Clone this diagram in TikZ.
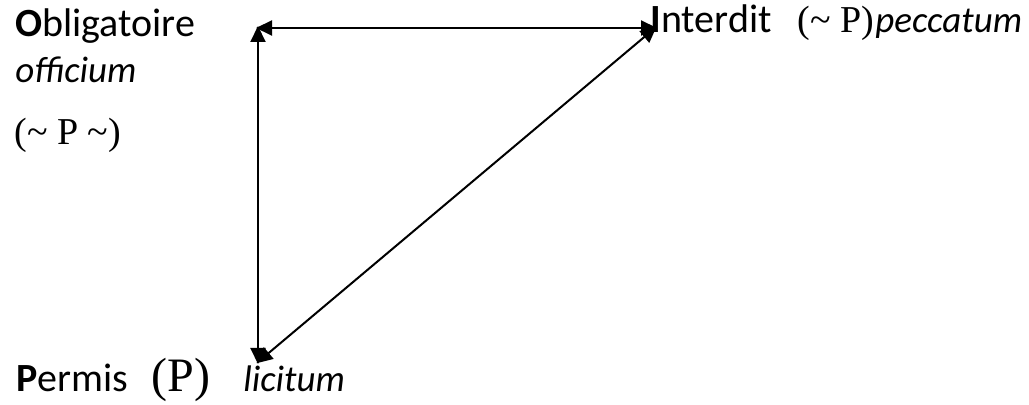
\documentclass[tikz,border=0pt]{standalone}
\usepackage{fontspec}
\setmainfont{Carlito}
\newfontfamily\timesfont{Liberation Serif}
\usetikzlibrary{
  arrows.meta,
  positioning
}

\begin{document}
\begin{tikzpicture}[
  x=0.5pt, y=-0.5pt,
  word/.style={anchor=base west, inner sep=0pt, font=\fontsize{20}{24}\selectfont},
  latin/.style={word, font=\fontsize{18.5}{22}\selectfont\itshape},
  formula/.style={word, font=\fontsize{19}{23}\selectfont\timesfont},
  arr/.style={{Triangle[length=8pt,width=7.5pt]}-{Triangle[length=8pt,width=7.5pt]}, line width=1pt, shorten <=-1pt, shorten >=-1pt}
]
  \useasboundingbox (0,0) rectangle (1029,405);

  % corners of the triangle
  \coordinate (obl) at (258,28);
  \coordinate (int) at (655,28);
  \coordinate (per) at (258,362);

  % top left
  \node[word] (oblig) at (15,37) {\textbf{O}bligatoire};
  \node[latin] (officium) at (15,83) {officium};
  \node[formula] (oblform) at (14,145) {(\textasciitilde\ P \textasciitilde)};

  % top right
  \node[word] (interdit) at (650,33) {\textbf{I}nterdit};
  \node[formula] (intform) at (797,33) {(\textasciitilde\ P)};
  \node[latin] (peccatum) at (875,33) {peccatum};

  % bottom
  \node[word] (permis) at (16,392) {\textbf{P}ermis};
  \node[formula, font=\fontsize{24}{28}\selectfont\timesfont] (perform) at (151,392) {(P)};
  \node[latin] (licitum) at (243,392) {licitum};

  \draw[arr] (obl) -- (int);
  \draw[arr] (obl) -- (per);
  \draw[arr] (per) -- (int);
\end{tikzpicture}
\end{document}
